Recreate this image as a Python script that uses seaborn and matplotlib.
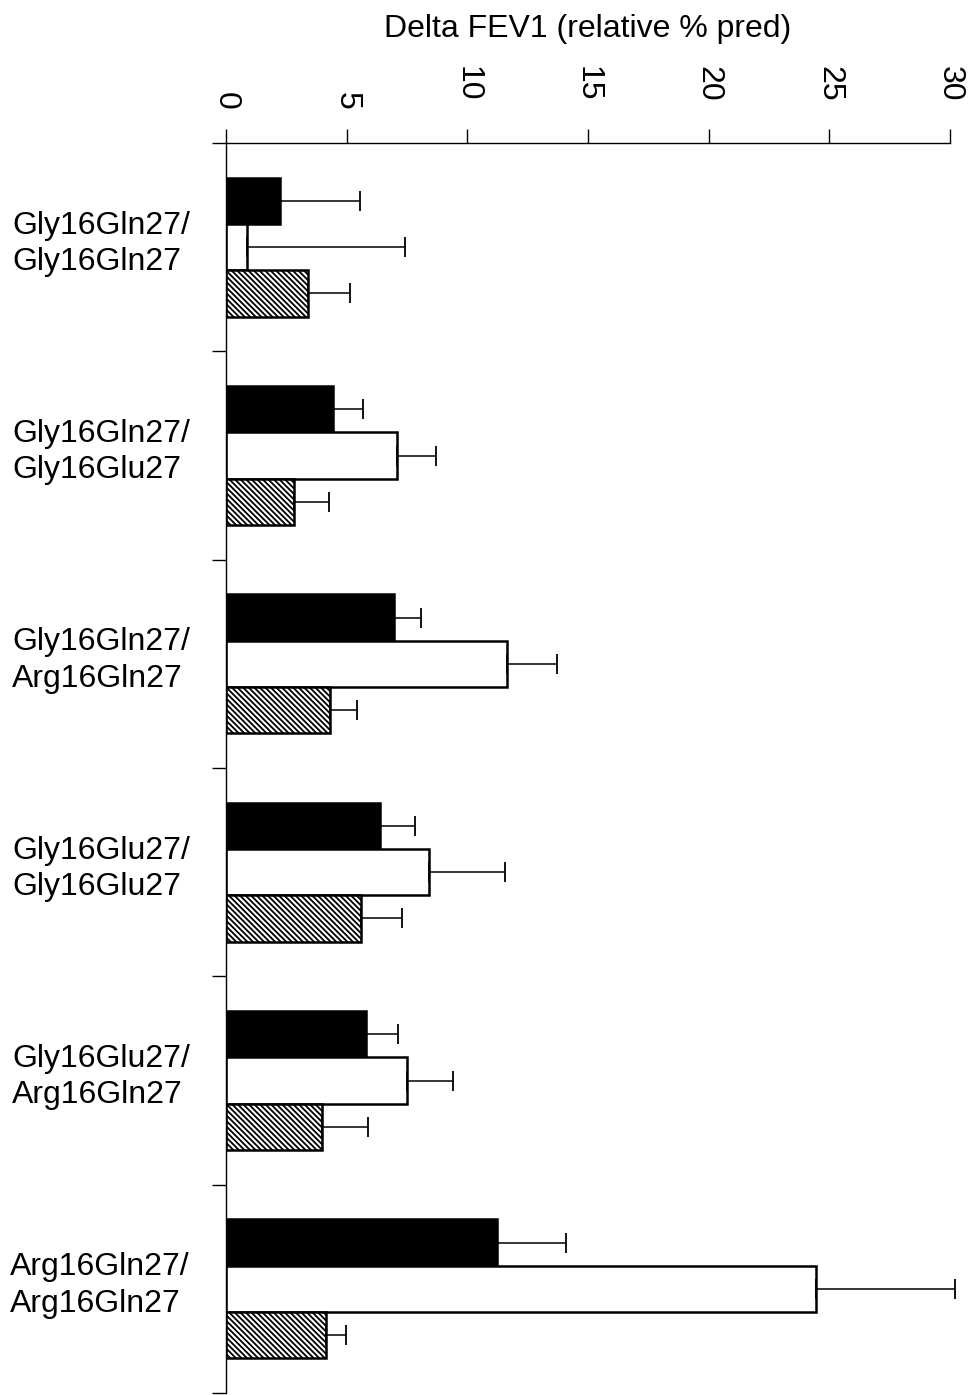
import matplotlib
matplotlib.use("Agg")
import matplotlib.pyplot as plt
import matplotlib.transforms as mtransforms
import seaborn as sns
import numpy as np
import pandas as pd

# ---- data ----
genotypes = ["Gly16Gln27/\nGly16Gln27", "Gly16Gln27/\nGly16Glu27", "Gly16Gln27/\nArg16Gln27",
             "Gly16Glu27/\nGly16Glu27", "Gly16Glu27/\nArg16Gln27", "Arg16Gln27/\nArg16Gln27"]
series = ["Series 1", "Series 2", "Series 3"]
black_vals = [2.24, 4.43, 6.96, 6.38, 5.80, 11.23]
black_err = [3.31, 1.25, 1.12, 1.45, 1.33, 2.86]
white_vals = [0.87, 7.09, 11.65, 8.41, 7.50, 24.45]
white_err = [6.53, 1.61, 2.07, 3.15, 1.91, 5.75]
hatch_vals = [3.40, 2.82, 4.31, 5.59, 3.98, 4.14]
hatch_err = [1.74, 1.45, 1.12, 1.70, 1.90, 0.83]
xticks = [0, 5, 10, 15, 20, 25, 30]
xlabel = "Delta FEV1 (relative % pred)"

vals = [black_vals, white_vals, hatch_vals]
errs = [black_err, white_err, hatch_err]
df = pd.DataFrame({
    "genotype": np.tile(genotypes, 3),
    "series": np.repeat(series, len(genotypes)),
    "value": np.concatenate(vals),
})

sns.set_style("white")
plt.rcParams["font.family"] = ["Liberation Sans", "DejaVu Sans"]
plt.rcParams["hatch.linewidth"] = 1.3
plt.rcParams["hatch.color"] = "black"
for k in ["text.color", "axes.labelcolor", "xtick.color", "ytick.color", "axes.edgecolor"]:
    plt.rcParams[k] = "black"

fig = plt.figure(figsize=(9.74, 13.95), dpi=100)
ax = fig.add_axes([226 / 974, 1 - 1393 / 1395, (950 - 226) / 974, (1393 - 143) / 1395])

sns.barplot(data=df, x="value", y="genotype", hue="series", order=genotypes, hue_order=series,
            palette=["black", "white", "white"], edgecolor="black", linewidth=1.8,
            width=0.667, errorbar=None, legend=False, saturation=1, orient="h", ax=ax)

bar_containers = list(ax.containers)
for i, cont in enumerate(bar_containers):
    for j, p in enumerate(cont.patches):
        if i == 2:
            p.set_hatch("\\\\\\\\\\\\")
        yc = p.get_y() + p.get_height() / 2
        w = p.get_width()
        ax.errorbar(w, yc, xerr=[[0], [errs[i][j]]], fmt="none", ecolor="black",
                    elinewidth=1.1, capsize=7.2, capthick=1.3, clip_on=False, zorder=1)

ax.set_xlim(0, 30)
n = len(genotypes)
ax.set_ylim(n - 0.5, -0.5)

# x axis on top
ax.xaxis.tick_top()
ax.xaxis.set_label_position("top")
ax.set_xticks(xticks)
ax.set_xticklabels([str(t) for t in xticks])
ax.tick_params(axis="x", which="major", direction="out", length=10, width=1, pad=20,
               labelsize=23, labelrotation=-90, colors="black")
ax.set_xlabel(xlabel, fontsize=23, labelpad=21, color="black")

# shift single-digit labels down slightly
for lab in ax.get_xticklabels():
    if len(lab.get_text()) == 1:
        lab.set_transform(lab.get_transform() + mtransforms.ScaledTranslation(0, -8 / 100, fig.dpi_scale_trans))

# y axis: boundary ticks + centered labels
ax.set_yticks(np.arange(-0.5, n, 1.0))
ax.set_yticklabels([])
ax.set_yticks(np.arange(n), minor=True)
ax.set_yticklabels(genotypes, minor=True)
ax.tick_params(axis="y", which="major", direction="out", length=10, width=1, left=True, colors="black")
ax.tick_params(axis="y", which="minor", length=0, pad=26, labelsize=23, colors="black")
for lab in ax.get_yticklabels(minor=True):
    lab.set_multialignment("left")
    lab.set_linespacing(1.28)
    lab.set_transform(lab.get_transform() + mtransforms.ScaledTranslation(0, 10 / 100, fig.dpi_scale_trans))
ax.set_ylabel("")

for s in ["bottom", "right"]:
    ax.spines[s].set_visible(False)
for s in ["top", "left"]:
    ax.spines[s].set_visible(True)
    ax.spines[s].set_linewidth(1.0)
    ax.spines[s].set_color("black")

fig.savefig("out.png", dpi=100)
